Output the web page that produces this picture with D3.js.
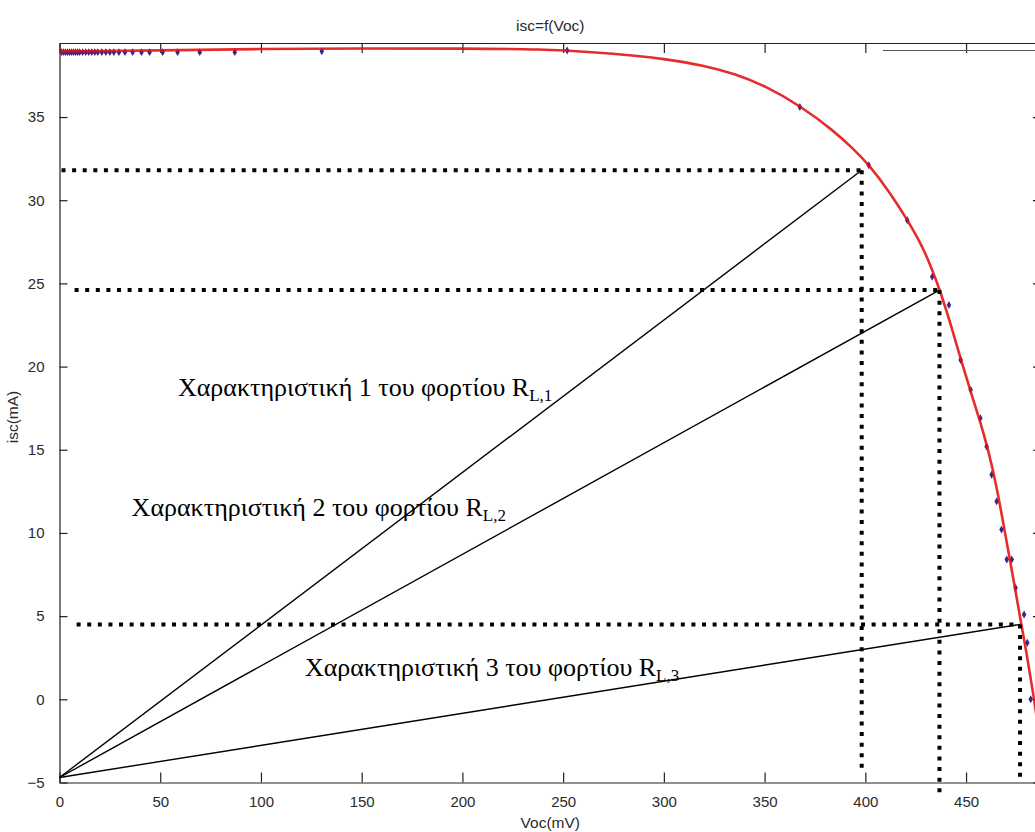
<!DOCTYPE html>
<html>
<head>
<meta charset="utf-8">
<script src="https://cdn.jsdelivr.net/npm/d3@7"></script>
<style>
  html, body { margin: 0; padding: 0; background: #fff; }
  svg { display: block; }
</style>
</head>
<body>
<svg id="chart" width="1035" height="832"></svg>
<script>
// Fitted I-V characteristic of the cell: open-circuit voltage (mV) vs short-circuit current (mA)
const fitVoc = [0, 50, 100, 150, 200, 240, 265, 285, 300, 320, 335, 350, 368, 384, 394, 402, 412, 421, 428, 433, 437, 442, 447, 452, 457, 461, 465, 468, 471, 474, 477, 480, 483, 486, 489];
const fitIsc = [38.95, 39.0, 39.1, 39.12, 39.12, 39.08, 38.9, 38.7, 38.5, 38.1, 37.6, 36.9, 35.65, 34.2, 33.1, 32.1, 30.5, 28.8, 27.3, 25.9, 24.6, 22.7, 20.6, 18.6, 16.7, 15.0, 12.9, 10.9, 8.9, 6.9, 4.8, 2.8, 0.6, -1.8, -4.3];

// Measured points
const measVoc = [1, 2, 3, 4, 5, 6, 7, 8, 9, 10, 11.5, 13, 14.5, 16, 17.5, 19, 21, 23, 25, 27, 29.5, 32.5, 36.3, 40.7, 44.7, 51.2, 58.6, 69.6, 87, 130.2, 252, 367.5, 401.7, 420.8, 433.2, 441.5, 447.3, 452.3, 457.1, 460.2, 462.7, 465.2, 467.6, 470.2, 472.7, 474.6, 478.8, 480.4, 482.1];
const measIsc = [38.9, 38.9, 38.9, 38.9, 38.9, 38.9, 38.9, 38.9, 38.9, 38.9, 38.9, 38.9, 38.9, 38.9, 38.9, 38.9, 38.9, 38.9, 38.9, 38.9, 38.9, 38.9, 38.9, 38.9, 38.9, 38.9, 38.9, 38.9, 38.9, 38.95, 39.0, 35.6, 32.1, 28.8, 25.4, 23.7, 20.4, 18.6, 16.9, 15.2, 13.5, 11.9, 10.2, 8.4, 8.4, 6.7, 5.1, 3.4, 0.0];

// Load characteristics: common origin and operating points on the I-V curve
const loadOriginVoc = 0;
const loadOriginIsc = -4.7;
const opVoc = [398.2, 436.8, 476.8];
const opIsc = [31.8, 24.6, 4.5];
const dropLineEnd = [-4.4, -5.65, -4.7];   // where the vertical guides stop (mA)
const guideStartVoc = [1, 7.5, 8.5];       // where the horizontal guides start (mV)

// Annotation text for each load line
const loadLabels = ["Χαρακτηριστική 1 του φορτίου R", "Χαρακτηριστική 2 του φορτίου R", "Χαρακτηριστική 3 του φορτίου R"];
const loadSubs = ["L,1", "L,2", "L,3"];
const labelVoc = [58.8, 35.8, 121.8];
const labelIsc = [18.25, 11.0, 1.4];

// Axis ticks
const xTicks = [0, 50, 100, 150, 200, 250, 300, 350, 400, 450];
const yTicks = [-5, 0, 5, 10, 15, 20, 25, 30, 35];

const titleText = "isc=f(Voc)";
const xLabel = "Voc(mV)";
const yLabel = "isc(mA)";

const svg = d3.select("#chart");
const mLeft = 59.5, mRight = 1041, mTop = 43, mBottom = 782.5;

const x = d3.scaleLinear().domain([0, 487.2]).range([mLeft, mRight]);
const y = d3.scaleLinear().domain([-5, 39.45]).range([mBottom, mTop]);

svg.append("defs").append("clipPath").attr("id", "plotClip")
  .append("rect").attr("x", mLeft).attr("y", mTop).attr("width", mRight - mLeft).attr("height", mBottom - mTop);

const tickFont = "'Liberation Sans', Arial, Helvetica, sans-serif";

// Axes box with inward ticks
const axisStyle = g => {
  g.select(".domain").attr("stroke", "#222").attr("stroke-width", 1.2);
  g.selectAll(".tick line").attr("stroke", "#222").attr("stroke-width", 1.2);
  g.selectAll(".tick text").attr("fill", "#2a2a2a").style("font-family", tickFont).style("font-size", "15px");
};

svg.append("g").attr("transform", `translate(0,${mBottom})`)
  .call(d3.axisBottom(x).tickValues(xTicks).tickFormat(d3.format("d")).tickSizeInner(-10).tickSizeOuter(0).tickPadding(14))
  .call(axisStyle);

svg.append("g").attr("transform", `translate(0,${mTop})`)
  .call(d3.axisTop(x).tickValues(xTicks).tickFormat("").tickSizeInner(-10).tickSizeOuter(0))
  .call(axisStyle);

svg.append("g").attr("transform", `translate(${mLeft},0)`)
  .call(d3.axisLeft(y).tickValues(yTicks).tickFormat(d3.format("d")).tickSizeInner(-8).tickSizeOuter(0).tickPadding(15))
  .call(axisStyle);

svg.append("g").attr("transform", `translate(${mRight},0)`)
  .call(d3.axisRight(y).tickValues(yTicks).tickFormat("").tickSizeInner(-8).tickSizeOuter(0))
  .call(axisStyle);

// Pasted strip along the upper right edge
svg.append("line")
  .attr("x1", 883).attr("x2", 1035).attr("y1", 50.5).attr("y2", 50.5)
  .attr("stroke", "#555").attr("stroke-width", 1.2);

// Titles
svg.append("text").attr("x", (mLeft + mRight) / 2).attr("y", 31)
  .attr("text-anchor", "middle").attr("fill", "#2a2a2a")
  .style("font-family", tickFont).style("font-size", "15.5px").text(titleText);

svg.append("text").attr("x", (mLeft + mRight) / 2).attr("y", 828)
  .attr("text-anchor", "middle").attr("fill", "#2a2a2a")
  .style("font-family", tickFont).style("font-size", "15.5px").text(xLabel);

svg.append("text").attr("transform", "translate(17.5,417) rotate(-90)")
  .attr("text-anchor", "middle").attr("fill", "#2a2a2a")
  .style("font-family", tickFont).style("font-size", "15.5px").text(yLabel);

const plot = svg.append("g").attr("clip-path", "url(#plotClip)");

// Measured points
plot.append("g").selectAll("path")
  .data(measVoc.map((v, i) => [v, measIsc[i]]))
  .join("path")
  .attr("transform", d => `translate(${x(d[0])},${y(d[1])})`)
  .attr("d", d3.symbol(d3.symbolDiamond, 18))
  .attr("fill", "#3b258c");

// Fitted curve
plot.append("path")
  .datum(fitVoc.map((v, i) => [v, fitIsc[i]]))
  .attr("fill", "none")
  .attr("stroke", "#e01010")
  .attr("stroke-opacity", 0.88)
  .attr("stroke-width", 2.6)
  .attr("d", d3.line().x(d => x(d[0])).y(d => y(d[1])).curve(d3.curveBasis));

const ann = svg.append("g");

// Horizontal and vertical guides to each operating point
opVoc.forEach((v, i) => {
  ann.append("line")
    .attr("x1", x(guideStartVoc[i])).attr("x2", x(v))
    .attr("y1", y(opIsc[i])).attr("y2", y(opIsc[i]))
    .attr("stroke", "#000").attr("stroke-width", 4).attr("stroke-dasharray", "4,6.6");
  ann.append("line")
    .attr("x1", x(v)).attr("x2", x(v))
    .attr("y1", y(opIsc[i])).attr("y2", y(dropLineEnd[i]))
    .attr("stroke", "#000").attr("stroke-width", 4).attr("stroke-dasharray", "4,6.6");
});

// Load lines from the common origin
opVoc.forEach((v, i) => {
  ann.append("line")
    .attr("x1", x(loadOriginVoc)).attr("y1", y(loadOriginIsc))
    .attr("x2", x(v)).attr("y2", y(opIsc[i]))
    .attr("stroke", "#000").attr("stroke-width", 1.4);
});

// Load line captions
loadLabels.forEach((t, i) => {
  const txt = ann.append("text")
    .attr("x", x(labelVoc[i])).attr("y", y(labelIsc[i]))
    .attr("fill", "#000")
    .style("font-family", "'Liberation Serif', 'Times New Roman', serif")
    .style("font-size", "26px");
  txt.append("tspan").text(t);
  txt.append("tspan").attr("dy", 5).style("font-size", "17px").text(loadSubs[i]);
});
</script>
</body>
</html>
